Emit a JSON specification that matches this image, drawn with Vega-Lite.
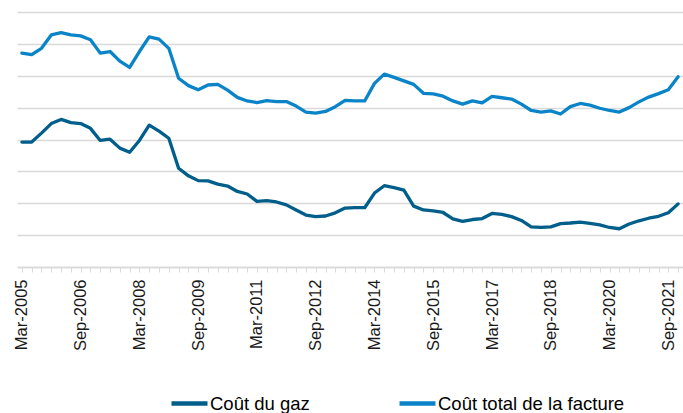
{
  "$schema": "https://vega.github.io/schema/vega-lite/v6.json",
  "width": 666,
  "height": 255,
  "autosize": {"type": "none"},
  "padding": {"left": 17, "top": 12, "right": 0, "bottom": 146},
  "background": "white",
  "config": {
    "view": {"stroke": null},
    "font": "Liberation Sans"
  },
  "data": {
    "values": [
      {"periode": "Mar-2005", "gaz": 39.2, "total": 67.1},
      {"periode": "Jun-2005", "gaz": 39.2, "total": 66.6},
      {"periode": "Sep-2005", "gaz": 42.0, "total": 68.6},
      {"periode": "Dec-2005", "gaz": 45.0, "total": 72.8},
      {"periode": "Mar-2006", "gaz": 46.3, "total": 73.5},
      {"periode": "Jun-2006", "gaz": 45.3, "total": 72.8},
      {"periode": "Sep-2006", "gaz": 45.0, "total": 72.5},
      {"periode": "Dec-2006", "gaz": 43.5, "total": 71.3},
      {"periode": "Mar-2007", "gaz": 39.7, "total": 67.1},
      {"periode": "Jun-2007", "gaz": 40.1, "total": 67.6},
      {"periode": "Sep-2007", "gaz": 37.3, "total": 64.6},
      {"periode": "Dec-2007", "gaz": 36.0, "total": 62.6},
      {"periode": "Mar-2008", "gaz": 39.7, "total": 67.6},
      {"periode": "Jun-2008", "gaz": 44.5, "total": 72.2},
      {"periode": "Sep-2008", "gaz": 42.6, "total": 71.5},
      {"periode": "Dec-2008", "gaz": 40.4, "total": 68.6},
      {"periode": "Mar-2009", "gaz": 31.0, "total": 59.2},
      {"periode": "Jun-2009", "gaz": 28.6, "total": 56.9},
      {"periode": "Sep-2009", "gaz": 27.1, "total": 55.6},
      {"periode": "Dec-2009", "gaz": 27.0, "total": 57.1},
      {"periode": "Mar-2010", "gaz": 26.0, "total": 57.3},
      {"periode": "Jun-2010", "gaz": 25.4, "total": 55.5},
      {"periode": "Sep-2010", "gaz": 23.7, "total": 53.2},
      {"periode": "Dec-2010", "gaz": 22.9, "total": 52.1},
      {"periode": "Mar-2011", "gaz": 20.6, "total": 51.6},
      {"periode": "Jun-2011", "gaz": 20.8, "total": 52.2},
      {"periode": "Sep-2011", "gaz": 20.4, "total": 51.9},
      {"periode": "Dec-2011", "gaz": 19.5, "total": 51.9},
      {"periode": "Mar-2012", "gaz": 17.9, "total": 50.5},
      {"periode": "Jun-2012", "gaz": 16.3, "total": 48.6},
      {"periode": "Sep-2012", "gaz": 15.8, "total": 48.3},
      {"periode": "Dec-2012", "gaz": 16.0, "total": 48.8},
      {"periode": "Mar-2013", "gaz": 17.0, "total": 50.3},
      {"periode": "Jun-2013", "gaz": 18.5, "total": 52.3},
      {"periode": "Sep-2013", "gaz": 18.6, "total": 52.1},
      {"periode": "Dec-2013", "gaz": 18.6, "total": 52.1},
      {"periode": "Mar-2014", "gaz": 23.2, "total": 57.6},
      {"periode": "Jun-2014", "gaz": 25.5, "total": 60.5},
      {"periode": "Sep-2014", "gaz": 24.9, "total": 59.5},
      {"periode": "Dec-2014", "gaz": 24.1, "total": 58.4},
      {"periode": "Mar-2015", "gaz": 19.1, "total": 57.3},
      {"periode": "Jun-2015", "gaz": 17.9, "total": 54.5},
      {"periode": "Sep-2015", "gaz": 17.6, "total": 54.3},
      {"periode": "Dec-2015", "gaz": 17.1, "total": 53.6},
      {"periode": "Mar-2016", "gaz": 15.1, "total": 52.1},
      {"periode": "Jun-2016", "gaz": 14.3, "total": 51.1},
      {"periode": "Sep-2016", "gaz": 14.9, "total": 52.1},
      {"periode": "Dec-2016", "gaz": 15.2, "total": 51.5},
      {"periode": "Mar-2017", "gaz": 16.8, "total": 53.5},
      {"periode": "Jun-2017", "gaz": 16.5, "total": 53.1},
      {"periode": "Sep-2017", "gaz": 15.8, "total": 52.7},
      {"periode": "Dec-2017", "gaz": 14.6, "total": 51.1},
      {"periode": "Mar-2018", "gaz": 12.6, "total": 49.1},
      {"periode": "Jun-2018", "gaz": 12.4, "total": 48.6},
      {"periode": "Sep-2018", "gaz": 12.6, "total": 49.0},
      {"periode": "Dec-2018", "gaz": 13.6, "total": 48.0},
      {"periode": "Mar-2019", "gaz": 13.8, "total": 50.3},
      {"periode": "Jun-2019", "gaz": 14.1, "total": 51.3},
      {"periode": "Sep-2019", "gaz": 13.7, "total": 50.8},
      {"periode": "Dec-2019", "gaz": 13.2, "total": 49.8},
      {"periode": "Mar-2020", "gaz": 12.4, "total": 49.1},
      {"periode": "Jun-2020", "gaz": 12.0, "total": 48.6},
      {"periode": "Sep-2020", "gaz": 13.5, "total": 50.0},
      {"periode": "Dec-2020", "gaz": 14.5, "total": 51.8},
      {"periode": "Mar-2021", "gaz": 15.3, "total": 53.3},
      {"periode": "Jun-2021", "gaz": 15.9, "total": 54.4},
      {"periode": "Sep-2021", "gaz": 17.0, "total": 55.6},
      {"periode": "Dec-2021", "gaz": 19.8, "total": 59.7}
    ]
  },
  "transform": [
    {"fold": ["gaz", "total"], "as": ["serie", "valeur"]}
  ],
  "mark": {"type": "line", "strokeWidth": 3.3, "strokeJoin": "round", "strokeCap": "round"},
  "encoding": {
    "x": {
      "field": "periode",
      "type": "ordinal",
      "sort": null,
      "scale": {"type": "point", "padding": 0.5},
      "axis": {
        "title": null,
        "labelAngle": -90,
        "labelFontSize": 16.5,
        "labelFont": "Liberation Sans",
        "labelColor": "#1a1a1a",
        "labelPadding": 7,
        "labelOverlap": false,
        "labelLimit": 0,
        "domainColor": "#D9D9D9",
        "domainWidth": 1.3,
        "tickColor": "#D9D9D9",
        "tickSize": 5,
        "tickWidth": 1,
        "grid": false,
        "labelExpr": "indexof(['Mar-2005','Sep-2006','Mar-2008','Sep-2009','Mar-2011','Sep-2012','Mar-2014','Sep-2015','Mar-2017','Sep-2018','Mar-2020','Sep-2021'], datum.label) >= 0 ? datum.label : ''"
      }
    },
    "y": {
      "field": "valeur",
      "type": "quantitative",
      "scale": {"domain": [0, 80], "nice": false, "zero": true},
      "axis": {
        "title": null,
        "labels": false,
        "ticks": false,
        "domain": false,
        "grid": true,
        "gridColor": "#D9D9D9",
        "gridWidth": 1.3,
        "values": [0, 10, 20, 30, 40, 50, 60, 70, 80]
      }
    },
    "color": {
      "field": "serie",
      "type": "nominal",
      "scale": {"domain": ["gaz", "total"], "range": ["#005E8A", "#0A84C9"]},
      "legend": {
        "title": null,
        "orient": "none",
        "direction": "horizontal",
        "legendX": 152,
        "legendY": 371,
        "symbolType": "stroke",
        "symbolSize": 1296,
        "symbolStrokeWidth": 4.5,
        "labelFontSize": 18.5,
        "labelFont": "Liberation Sans",
        "labelColor": "#000000",
        "labelOffset": 0,
        "columnPadding": 80,
        "labelLimit": 0,
        "labelExpr": "datum.value == 'gaz' ? 'Coût du gaz' : 'Coût total de la facture'"
      }
    }
  }
}
